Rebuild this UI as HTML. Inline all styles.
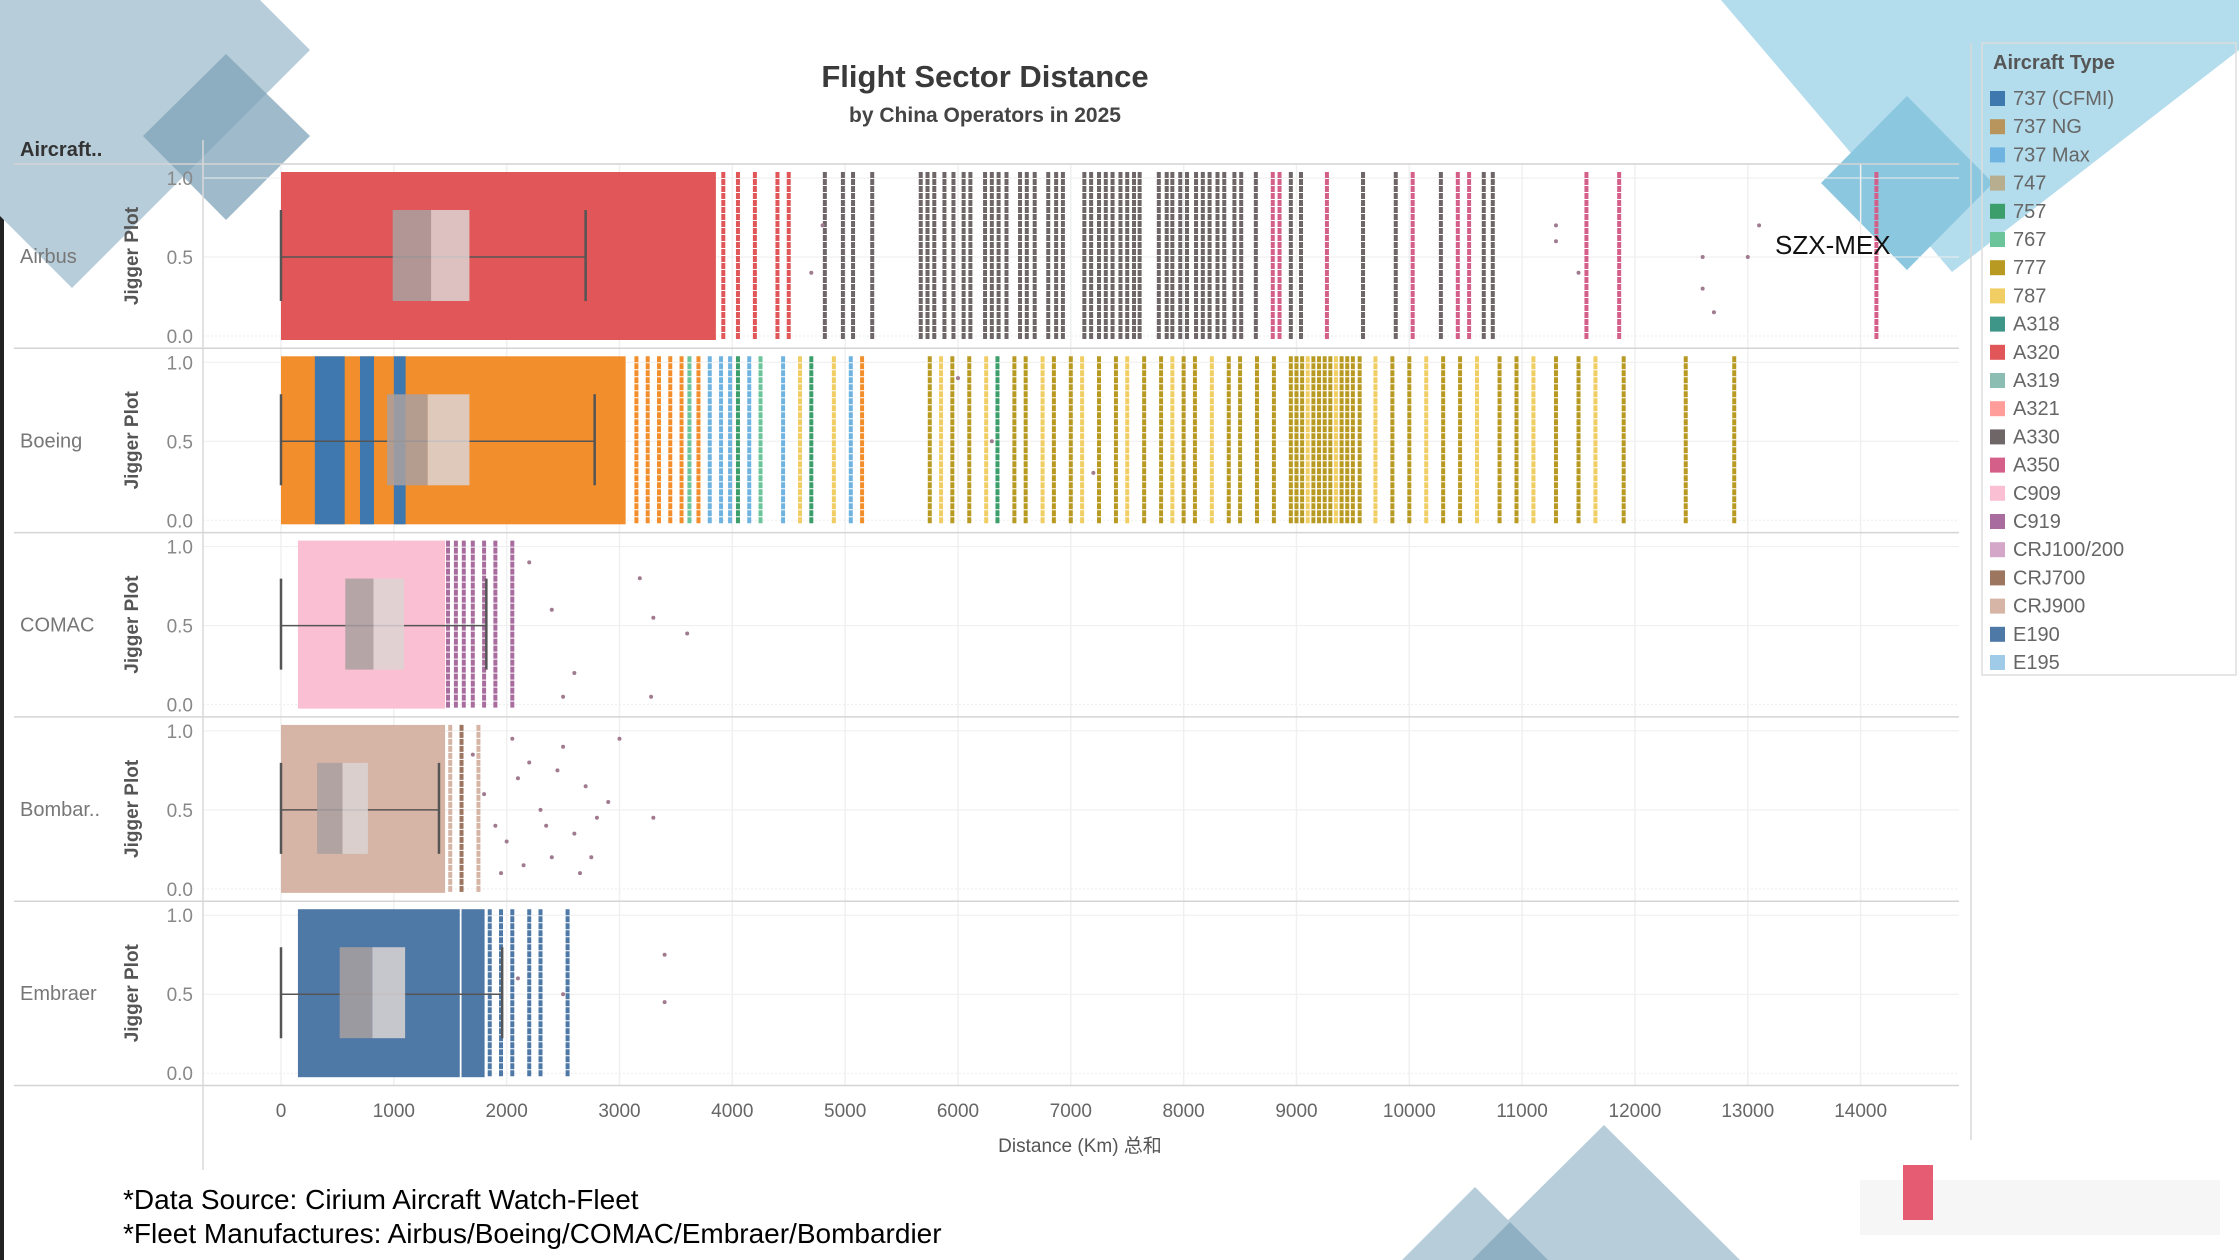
<!DOCTYPE html>
<html><head><meta charset="utf-8">
<style>
html,body{margin:0;padding:0;background:#fff;}
body{width:2239px;height:1260px;overflow:hidden;position:relative;font-family:"Liberation Sans","Noto Sans CJK SC",sans-serif;}
svg{position:absolute;left:0;top:0;}
</style></head>
<body>
<svg id="chart" width="2239" height="1260" viewBox="0 0 2239 1260">
  <g id="deco">
    <rect x="0" y="0" width="4" height="1260" fill="#222"/>
    <polygon points="72,-188 310,50 72,288 -166,50" fill="#b7cdd9"/>
    <polygon points="226,54 310,136 226,220 143,136" fill="#7fa3b8" opacity="0.75"/>
    <polygon points="1721,0 2239,0 2239,50 1952,272" fill="#b3dcec"/>
    <polygon points="1907,96 1993,183 1907,270 1821,183" fill="#8cc7e0"/>
    <polygon points="1604,1125 1740,1260 1468,1260" fill="#b7cdd9"/>
    <polygon points="1475,1187 1548,1260 1402,1260" fill="#b7cdd9"/>
    <polygon points="1510,1222 1548,1260 1472,1260" fill="#8fb0c2"/>
  </g>
  <g id="plot"></g>
</svg>
<script>
const NS='http://www.w3.org/2000/svg';
// ---- data ----
const manufacturers=['Airbus','Boeing','COMAC','Bombar..','Embraer'];
const xTicks=[0,1000,2000,3000,4000,5000,6000,7000,8000,9000,10000,11000,12000,13000,14000];
const yTicks=[1.0,0.5,0.0];
const typeNames=['737 (CFMI)','737 NG','737 Max','747','757','767','777','787','A318','A320','A319','A321','A330','A350','C909','C919','CRJ100/200','CRJ700','CRJ900','E190','E195'];
const typeColors=['#3f78ae','#b8955c','#6fb3e0','#b7ae8f','#3c9e6a','#6cc49a','#b89a22','#f1ce63','#3e9688','#e15759','#8cbdb2','#ff9d9a','#6e6667','#d4608a','#fabfd2','#a86d9e','#d4a6c8','#9d7660','#d7b5a6','#4e79a7','#a0cbe8'];
const bandColors={'737 NG':'#f28e2b'};
// boxplots: [whiskerLow, q1, median, q3, whiskerHigh] (km)
const boxStats=[[0,990,1330,1670,2700],[0,940,1300,1670,2780],[0,570,820,1090,1820],[0,320,545,770,1400],[0,520,810,1100,1960]];
// dense bands: [startKm,endKm,type]
const bandsAirbus=[[0,3150,'A320'],[3150,3850,'A320']];
const bandsBoeing=[[0,2900,'737 NG'],[300,560,'737 (CFMI)'],[700,820,'737 (CFMI)'],[1000,1100,'737 (CFMI)'],[2900,3050,'737 NG']];
const bandsCOMAC=[[150,1450,'C909']];
const bandsBombardier=[[0,1450,'CRJ900']];
const bandsEmbraer=[[150,1580,'E190'],[1600,1800,'E190']];
// individual routes: [km,type]
const routesAirbus=[[3920,'A320'],[4050,'A320'],[4200,'A320'],[4400,'A320'],[4500,'A320'],[4820,'A330'],[4980,'A330'],[5070,'A330'],[5240,'A330'],[5670,'A330'],[5730,'A330'],[5790,'A330'],[5880,'A330'],[5960,'A330'],[6050,'A330'],[6110,'A330'],[6240,'A330'],[6300,'A330'],[6360,'A330'],[6430,'A330'],[6550,'A330'],[6610,'A330'],[6680,'A330'],[6800,'A330'],[6870,'A330'],[6930,'A330'],[7120,'A330'],[7180,'A330'],[7250,'A330'],[7310,'A330'],[7370,'A330'],[7440,'A330'],[7500,'A330'],[7560,'A330'],[7610,'A330'],[7780,'A330'],[7850,'A330'],[7900,'A330'],[7970,'A330'],[8030,'A330'],[8110,'A330'],[8170,'A330'],[8230,'A330'],[8300,'A330'],[8360,'A330'],[8450,'A330'],[8510,'A330'],[8640,'A330'],[8790,'A350'],[8850,'A350'],[8950,'A330'],[9040,'A330'],[9270,'A350'],[9590,'A330'],[9880,'A330'],[10030,'A350'],[10280,'A330'],[10430,'A350'],[10530,'A350'],[10660,'A330'],[10740,'A330'],[11570,'A350'],[11860,'A350'],[14140,'A350']];
const routesBoeing=[[3150,'737 NG'],[3250,'737 NG'],[3350,'737 NG'],[3450,'737 NG'],[3550,'737 NG'],[3620,'767'],[3700,'737 NG'],[3800,'737 Max'],[3900,'737 Max'],[3980,'737 Max'],[4050,'757'],[4150,'737 Max'],[4250,'767'],[4450,'737 Max'],[4600,'787'],[4700,'757'],[4900,'787'],[5050,'737 Max'],[5150,'737 NG'],[5750,'777'],[5850,'787'],[5950,'777'],[6100,'777'],[6250,'787'],[6350,'757'],[6500,'777'],[6600,'777'],[6750,'787'],[6850,'777'],[7000,'777'],[7100,'787'],[7250,'777'],[7400,'777'],[7500,'787'],[7650,'777'],[7800,'777'],[7900,'787'],[8000,'777'],[8100,'777'],[8250,'787'],[8400,'777'],[8500,'777'],[8650,'777'],[8800,'777'],[8950,'777'],[9000,'777'],[9050,'777'],[9100,'787'],[9150,'777'],[9200,'777'],[9250,'777'],[9300,'777'],[9350,'787'],[9400,'777'],[9450,'777'],[9500,'777'],[9560,'777'],[9700,'787'],[9850,'777'],[10000,'777'],[10150,'787'],[10300,'777'],[10450,'777'],[10600,'787'],[10800,'777'],[10950,'777'],[11100,'787'],[11300,'777'],[11500,'777'],[11650,'787'],[11900,'777'],[12450,'777'],[12880,'777']];
const routesCOMAC=[[1480,'C919'],[1550,'C919'],[1620,'C919'],[1700,'C919'],[1800,'C919'],[1900,'C919'],[2050,'C919']];
const routesBombardier=[[1500,'CRJ900'],[1600,'CRJ700'],[1750,'CRJ900']];
const routesEmbraer=[[1850,'E190'],[1950,'E190'],[2050,'E190'],[2200,'E190'],[2300,'E190'],[2540,'E190']];
// sparse flights: [km, jitter 0..1]
const dotsAirbus=[[4700,0.4],[4800,0.7],[11300,0.7],[11300,0.6],[11500,0.4],[12600,0.5],[12600,0.3],[12700,0.15],[13000,0.5],[13100,0.7]];
const dotsBoeing=[[6000,0.9],[6300,0.5],[7200,0.3]];
const dotsCOMAC=[[2200,0.9],[2400,0.6],[2600,0.2],[3180,0.8],[3300,0.55],[3600,0.45],[3280,0.05],[2500,0.05]];
const dotsBombardier=[[1700,0.85],[1800,0.6],[1900,0.4],[2000,0.3],[2100,0.7],[2200,0.8],[2300,0.5],[2400,0.2],[2500,0.9],[2600,0.35],[2700,0.65],[2800,0.45],[2900,0.55],[3000,0.95],[1950,0.1],[2150,0.15],[2450,0.75],[2750,0.2],[3300,0.45],[2050,0.95],[2350,0.4],[2650,0.1]];
const dotsEmbraer=[[2100,0.6],[3400,0.75],[3400,0.45],[2500,0.5]];
const rowBands=[bandsAirbus,bandsBoeing,bandsCOMAC,bandsBombardier,bandsEmbraer];
const rowRoutes=[routesAirbus,routesBoeing,routesCOMAC,routesBombardier,routesEmbraer];
const rowDots=[dotsAirbus,dotsBoeing,dotsCOMAC,dotsBombardier,dotsEmbraer];

// ---- layout ----
const X0=281, KM=0.11283, ROW0=164, ROWH=184.3, PL=203, PR=1959;
const xs=k=>X0+k*KM;
const ys=(r,v)=>ROW0+r*ROWH+172-v*158;
function col(t){return bandColors[t]||typeColors[typeNames.indexOf(t)];}
const g=document.getElementById('plot');
function el(tag,attrs,parent,text){const e=document.createElementNS(NS,tag);for(const k in attrs)e.setAttribute(k,attrs[k]);if(text!==undefined)e.textContent=text;(parent||g).appendChild(e);return e;}

let t=el('text',{x:985,y:87,'text-anchor':'middle','font-size':31,'font-weight':'bold',fill:'#3a3a3a'},g,'Flight Sector Distance');


t=el('text',{x:985,y:122,'text-anchor':'middle','font-size':21,'font-weight':'bold',fill:'#444'},g,'by China Operators in 2025');


t=el('text',{x:20,y:156,'font-size':20,'font-weight':'bold',fill:'#333'},g,'Aircraft..');



xTicks.forEach(k=>{
  const l=el('line',{x1:xs(k),x2:xs(k),y1:ROW0,y2:ROW0+5*ROWH,stroke:'#f0f0f0','stroke-width':1.5});
  
  
  const tx=el('text',{x:xs(k),y:1117,'text-anchor':'middle','font-size':19,fill:'#666'},g,String(k));
  
  
});
t=el('text',{x:1080,y:1152,'text-anchor':'middle','font-size':19,fill:'#555'},g,'Distance (Km) 总和');



manufacturers.forEach((m,r)=>{
  const top=ROW0+r*ROWH;
  yTicks.forEach(v=>{
    const l=el('line',{x1:PL,x2:PR,y1:ys(r,v),y2:ys(r,v),stroke:'#eeeeee','stroke-width':1,'stroke-dasharray':v===0?'2 2':''});
    
    
    const tx=el('text',{x:193,y:ys(r,v)+7,'text-anchor':'end','font-size':19,fill:'#888'},g,v.toFixed(1));
    
    
  });
  const sep=el('line',{x1:14,x2:PR,y1:top,y2:top,stroke:'#d4d4d4','stroke-width':1.5});
  
  
  const lab=el('text',{x:20,y:top+99,'font-size':20,fill:'#777'},g,m);
  
  
  const yl=el('text',{x:0,y:0,'font-size':19,'font-weight':'bold',fill:'#555','text-anchor':'middle',transform:`translate(138,${top+92}) rotate(-90)`},g,'Jigger Plot');
  
  
  const rg=el('g',{});
  
  
  const yT=top+8, yB=top+176;
  rowBands[r].forEach(b=>{
    const rc=el('rect',{x:xs(b[0]),y:yT,width:xs(b[1])-xs(b[0])+0.5,height:yB-yT,fill:col(b[2])},rg);
    
    
  });
  rowRoutes[r].forEach(rt=>{
    const l=el('line',{x1:xs(rt[0]),x2:xs(rt[0]),y1:yT,y2:yB,stroke:col(rt[1]),'stroke-width':4,'stroke-dasharray':'6 1'},rg);
    
    
  });
  rowDots[r].forEach(d=>{
    const c=el('circle',{cx:xs(d[0]),cy:ys(r,d[1]),r:2,fill:'#a07a8e'},rg);
    
    
  });
  const s=boxStats[r];
  const bt=top+46, bb=top+137, mid=ys(r,0.5);
  const bx=el('g',{},rg);
  
  
  el('line',{x1:xs(s[0]),x2:xs(s[4]),y1:mid,y2:mid,stroke:'#555','stroke-width':1.5},bx);
  el('line',{x1:xs(s[0]),x2:xs(s[0]),y1:bt,y2:bb,stroke:'#555','stroke-width':2.5},bx);
  el('line',{x1:xs(s[4]),x2:xs(s[4]),y1:bt,y2:bb,stroke:'#555','stroke-width':2.5},bx);
  el('rect',{x:xs(s[1]),y:bt,width:xs(s[2])-xs(s[1]),height:bb-bt,fill:'#a9a0a0',opacity:0.85},bx);
  el('rect',{x:xs(s[2]),y:bt,width:xs(s[3])-xs(s[2]),height:bb-bt,fill:'#dcd3d3',opacity:0.85},bx);
});
let b=el('line',{x1:14,x2:PR,y1:ROW0+5*ROWH,y2:ROW0+5*ROWH,stroke:'#d4d4d4','stroke-width':1.5});


b=el('line',{x1:PL,x2:PL,y1:140,y2:1170,stroke:'#d8d8d8','stroke-width':1.5});


b=el('line',{x1:1971,x2:1971,y1:43,y2:1140,stroke:'#d8d8d8','stroke-width':1.5});


t=el('text',{x:1775,y:254,'font-size':26,fill:'#111'},g,'SZX-MEX');



const lg=el('g',{});


let lb=el('rect',{x:1982,y:43,width:254,height:632,fill:'none',stroke:'#ddd','stroke-width':1.5},lg);


t=el('text',{x:1993,y:69,'font-size':20,'font-weight':'bold',fill:'#555'},lg,'Aircraft Type');


typeNames.forEach((n,i)=>{
  const y=105+i*28.2;
  const e=el('g',{},lg);
  
  
  el('rect',{x:1990,y:y-14,width:15,height:15,fill:typeColors[i]},e);
  el('text',{x:2013,y:y,'font-size':20,fill:'#666'},e,n);
});

t=el('text',{x:123,y:1209,'font-size':28,fill:'#000'},g,'*Data Source: Cirium Aircraft Watch-Fleet');


t=el('text',{x:123,y:1243,'font-size':28,fill:'#000'},g,'*Fleet Manufactures: Airbus/Boeing/COMAC/Embraer/Bombardier');


b=el('rect',{x:1860,y:1180,width:360,height:55,fill:'#f4f4f4',opacity:0.8});


b=el('rect',{x:1903,y:1165,width:30,height:55,fill:'#e0405a',opacity:0.85});


</script>
</body></html>
